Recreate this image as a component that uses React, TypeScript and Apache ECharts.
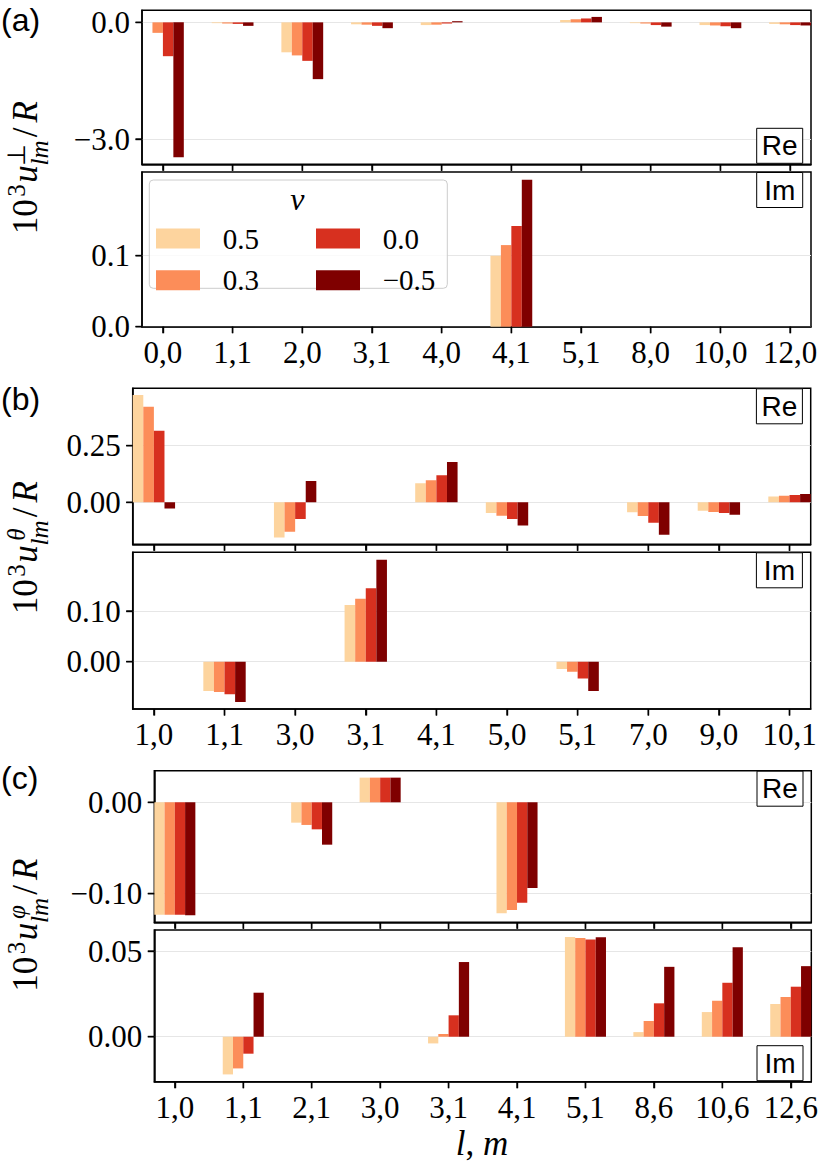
import React, { useEffect, useRef } from 'react';
import * as echarts from 'echarts';

// ---------------- data ----------------
const nuLabels = ['0.5', '0.3', '0.0', '\u22120.5'];
const barColors = ['#fdd49e', '#fc8d59', '#d7301f', '#7f0000'];

// panel (a): u_perp
const catsA = ['0,0', '1,1', '2,0', '3,1', '4,0', '4,1', '5,1', '8,0', '10,0', '12,0'];
const aRe: number[][] = [
  [0, -0.02, -0.77, -0.05, -0.07, 0, 0.06, -0.02, -0.07, -0.04],
  [-0.27, -0.03, -0.85, -0.06, -0.06, 0, 0.08, -0.03, -0.08, -0.05],
  [-0.87, -0.04, -0.99, -0.09, -0.03, 0, 0.1, -0.07, -0.1, -0.07],
  [-3.47, -0.09, -1.46, -0.15, 0.03, 0, 0.14, -0.11, -0.15, -0.08],
];
const aIm: number[][] = [
  [0, 0, 0, 0, 0, 0.1, 0, 0, 0, 0],
  [0, 0, 0, 0, 0, 0.115, 0, 0, 0, 0],
  [0, 0, 0, 0, 0, 0.142, 0, 0, 0, 0],
  [0, 0, 0, 0, 0, 0.207, 0, 0, 0, 0],
];
const aReTicks = [-3, 0];
const aReTickText = ['\u22123.0', '0.0'];
const aImTicks = [0, 0.1];
const aImTickText = ['0.0', '0.1'];

// panel (b): u_theta
const catsB = ['1,0', '1,1', '3,0', '3,1', '4,1', '5,0', '5,1', '7,0', '9,0', '10,1'];
const bRe: number[][] = [
  [0.474, 0, -0.156, 0, 0.084, -0.047, 0, -0.044, -0.037, 0.026],
  [0.422, 0, -0.13, 0, 0.097, -0.059, 0, -0.061, -0.043, 0.029],
  [0.316, 0, -0.074, 0, 0.119, -0.074, 0, -0.09, -0.047, 0.032],
  [-0.027, 0, 0.094, 0, 0.178, -0.102, 0, -0.143, -0.055, 0.037],
];
const bIm: number[][] = [
  [0, -0.058, 0, 0.112, 0, 0, -0.0144, 0, 0, 0],
  [0, -0.06, 0, 0.124, 0, 0, -0.02, 0, 0, 0],
  [0, -0.064, 0, 0.145, 0, 0, -0.033, 0, 0, 0],
  [0, -0.0795, 0, 0.201, 0, 0, -0.058, 0, 0, 0],
];
const bReTicks = [0, 0.25];
const bReTickText = ['0.00', '0.25'];
const bImTicks = [0, 0.1];
const bImTickText = ['0.00', '0.10'];

// panel (c): u_phi
const catsC = ['1,0', '1,1', '2,1', '3,0', '3,1', '4,1', '5,1', '8,6', '10,6', '12,6'];
const cRe: number[][] = [
  [-0.123, 0, -0.0223, 0.027, 0, -0.1216, 0, 0, 0, 0],
  [-0.123, 0, -0.0248, 0.027, 0, -0.118, 0, 0, 0, 0],
  [-0.123, 0, -0.0296, 0.027, 0, -0.11, 0, 0, 0, 0],
  [-0.1238, 0, -0.0464, 0.027, 0, -0.0939, 0, 0, 0, 0],
];
const cIm: number[][] = [
  [0, -0.022, 0, 0, -0.0039, 0, 0.0582, 0.0027, 0.0144, 0.0191],
  [0, -0.0185, 0, 0, 0.0016, 0, 0.0576, 0.0092, 0.021, 0.0232],
  [0, -0.0099, 0, 0, 0.0125, 0, 0.0568, 0.0195, 0.0315, 0.0292],
  [0, 0.0257, 0, 0, 0.0436, 0, 0.058, 0.0408, 0.0522, 0.0412],
];
const cReTicks = [-0.1, 0];
const cReTickText = ['\u22120.10', '0.00'];
const cImTicks = [0, 0.05];
const cImTickText = ['0.00', '0.05'];

// ---------------- styling / layout ----------------
const SERIF_NAME = 'Liberation Serif';
const SERIF = "'Liberation Serif', serif";
const SANS = "'Liberation Sans', sans-serif";
const W = 832;
const X_MIN = -0.3;
const X_MAX = 9.3;
const TICK_LEN = 6.5;

type Part = {
  top: number;
  height: number;
  min: number;
  max: number;
  data: number[][];
  ticks: number[];
  tickText: string[];
  tag: string;
  tagPos: 'top' | 'bottom';
  labels: boolean;
};
type Panel = { letter: string; cats: string[]; left: number; right: number; parts: Part[]; sym: string; symItalic: boolean; titleCenter: number; letterY: number };

const panels: Panel[] = [
  {
    letter: '(a)', cats: catsA, left: 142, right: 21, sym: '\u22A5', symItalic: false, titleCenter: 167.5, letterY: 22.5,
    parts: [
      { top: 10.3, height: 154, min: -3.65, max: 0.31, data: aRe, ticks: aReTicks, tickText: aReTickText, tag: 'Re', tagPos: 'bottom', labels: false },
      { top: 172, height: 154.7, min: 0, max: 0.218, data: aIm, ticks: aImTicks, tickText: aImTickText, tag: 'Im', tagPos: 'top', labels: true },
    ],
  },
  {
    letter: '(b)', cats: catsB, left: 132.7, right: 21.3, sym: '\u03B8', symItalic: true, titleCenter: 547.5, letterY: 401.7,
    parts: [
      { top: 388.3, height: 156, min: -0.1855, max: 0.5035, data: bRe, ticks: bReTicks, tickText: bReTickText, tag: 'Re', tagPos: 'top', labels: false },
      { top: 552.3, height: 156.7, min: -0.0933, max: 0.2158, data: bIm, ticks: bImTicks, tickText: bImTickText, tag: 'Im', tagPos: 'top', labels: true },
    ],
  },
  {
    letter: '(c)', cats: catsC, left: 154.3, right: 20.7, sym: '\u03C6', symItalic: true, titleCenter: 925, letterY: 780.8,
    parts: [
      { top: 770.7, height: 151.6, min: -0.1314, max: 0.0346, data: cRe, ticks: cReTicks, tickText: cReTickText, tag: 'Re', tagPos: 'top', labels: false },
      { top: 930, height: 151.7, min: -0.02625, max: 0.0623, data: cIm, ticks: cImTicks, tickText: cImTickText, tag: 'Im', tagPos: 'bottom', labels: true },
    ],
  },
];

const catIdx = [0, 1, 2, 3, 4, 5, 6, 7, 8, 9];
const allParts: Part[] = panels.flatMap((p) => p.parts);

function yTitle(sym: string, symItalic: boolean, centerY: number) {
  const main = 35;
  const scr = 25;
  const t = (text: string, cx: number, base: number, fs: number, italic: boolean) => ({
    type: 'text',
    x: cx,
    y: base - 0.3375 * fs,
    style: {
      text,
      font: `${italic ? 'italic ' : ''}${fs}px ${SERIF}`,
      fill: '#000',
      textAlign: 'center',
      textVerticalAlign: 'middle',
      verticalAlign: 'middle',
    },
  });
  return {
    type: 'group',
    x: 37,
    y: centerY + 67.5,
    rotation: Math.PI / 2,
    children: [
      t('10', 18.3, 0, main, false),
      t('3', 44.5, -12, scr, false),
      t('u', 61, 0, main, true),
      t(sym, 80.5, -12, scr, symItalic),
      t('lm', 82, 11, scr, true),
      t('/', 102.5, 0, main, false),
      t('R', 123.3, 0, main, true),
    ],
  };
}

function buildOption() {
  const grid: any[] = [];
  const xAxis: any[] = [];
  const yAxis: any[] = [];
  const series: any[] = [];
  const graphic: any[] = [];
  const lineBlack = { color: '#000', width: 1.5 };

  panels.forEach((p) => {
    p.parts.forEach((part) => {
      const k = grid.length;
      grid.push({
        left: p.left,
        right: p.right,
        top: part.top,
        height: part.height,
        show: true,
        borderColor: '#000',
        borderWidth: 1.5,
      });
      xAxis.push({
        type: 'value',
        gridIndex: k,
        min: X_MIN,
        max: X_MAX,
        axisLine: { show: true, onZero: false, lineStyle: lineBlack },
        axisTick: { show: true, customValues: catIdx.slice(), length: TICK_LEN, lineStyle: { color: '#000', width: 1.4 } },
        axisLabel: {
          show: part.labels,
          customValues: catIdx.slice(),
          formatter: (v: number) => p.cats[Math.round(v)] ?? '',
          margin: 10,
          fontFamily: SERIF_NAME,
          fontSize: 31,
          color: '#000',
        },
        splitLine: { show: false },
      });
      const ticks = part.ticks;
      const texts = part.tickText;
      yAxis.push({
        type: 'value',
        gridIndex: k,
        min: part.min,
        max: part.max,
        axisLine: { show: true, onZero: false, lineStyle: lineBlack },
        axisTick: { show: true, customValues: ticks.slice(), length: TICK_LEN, lineStyle: { color: '#000', width: 1.4 } },
        axisLabel: {
          customValues: ticks.slice(),
          formatter: (v: number) => {
            for (let i = 0; i < ticks.length; i++) if (Math.abs(ticks[i] - v) < 1e-9) return texts[i];
            return '';
          },
          margin: 12,
          fontFamily: SERIF_NAME,
          fontSize: 31,
          color: '#000',
        },
        splitLine: { show: true, lineStyle: { color: '#e6e6e6', width: 1.2 } },
      });
      part.data.forEach((vals, j) => {
        series.push({
          type: 'bar',
          name: nuLabels[j],
          xAxisIndex: k,
          yAxisIndex: k,
          data: vals.map((v, i) => [i, v]),
          barWidth: '15%',
          barGap: '0%',
          itemStyle: { color: barColors[j] },
          emphasis: { disabled: true },
        });
      });
      // Re / Im tag
      const boxW = 46;
      const boxH = 35;
      const bx = W - p.right - 8.3 - boxW;
      const by = part.tagPos === 'top' ? part.top + 0.5 : part.top + part.height - 1 - boxH;
      graphic.push({
        type: 'rect',
        shape: { x: bx, y: by, width: boxW, height: boxH },
        style: { fill: '#fff', stroke: '#000', lineWidth: 1 },
        z: 5,
      });
      graphic.push({
        type: 'text',
        x: bx + boxW / 2,
        y: by + boxH / 2,
        style: { text: part.tag, font: `28px ${SANS}`, fill: '#000', textAlign: 'center', textVerticalAlign: 'middle', verticalAlign: 'middle' },
        z: 6,
      });
    });
    // panel letter
    graphic.push({
      type: 'text',
      x: 1,
      y: p.letterY - 2.8,
      style: { text: p.letter, font: `32px ${SANS}`, fill: '#000', textAlign: 'left', textVerticalAlign: 'middle', verticalAlign: 'middle' },
      z: 6,
    });
    graphic.push(yTitle(p.sym, p.symItalic, p.titleCenter));
  });

  // legend frame and title
  graphic.push({
    type: 'rect',
    shape: { x: 149.3, y: 180, width: 298, height: 108.3, r: 4 },
    style: { fill: 'rgba(255,255,255,0.8)', stroke: '#cccccc', lineWidth: 1 },
    z: 3,
  });
  graphic.push({
    type: 'text',
    x: 297.3,
    y: 199,
    style: { text: '\u03BD', font: `italic 32px ${SERIF}`, fill: '#000', textAlign: 'center', textVerticalAlign: 'middle', verticalAlign: 'middle' },
    z: 6,
  });
  // x-axis title
  graphic.push({
    type: 'text',
    x: 482,
    y: 1143,
    style: {
      text: '{i|l}{n|, }{i|m}',
      rich: {
        i: { font: `italic 35px ${SERIF}`, fill: '#000' },
        n: { font: `35px ${SERIF}`, fill: '#000' },
      },
      fill: '#000',
      textAlign: 'center',
      textVerticalAlign: 'middle',
      verticalAlign: 'middle',
    },
    z: 6,
  });

  const legendCommon = {
    orient: 'vertical',
    icon: 'rect',
    itemWidth: 44,
    itemHeight: 20,
    itemGap: 12.7,
    padding: 0,
    top: 224,
    z: 8,
    selectedMode: false,
    textStyle: { fontFamily: SERIF_NAME, fontSize: 29, color: '#000', lineHeight: 20, padding: [0, 0, 0, 17.7] },
  };

  return {
    option: {
      animation: false,
      backgroundColor: '#fff',
      grid,
      xAxis,
      yAxis,
      series,
      legend: [
        { ...legendCommon, left: 156, data: [nuLabels[0], nuLabels[1]] },
        { ...legendCommon, left: 316, data: [nuLabels[2], nuLabels[3]] },
      ],
      graphic: { elements: graphic },
    },
    graphic,
  };
}

// tick marks placed with the chart's own coordinate conversion
function tickElements(chart: echarts.ECharts) {
  const els: any[] = [];
  allParts.forEach((part, k) => {
    const finder = { gridIndex: k };
    part.ticks.forEach((v) => {
      const pt = chart.convertToPixel(finder as any, [X_MIN, v]) as number[];
      if (!pt) return;
      els.push({
        type: 'line',
        shape: { x1: pt[0] - TICK_LEN, y1: pt[1], x2: pt[0], y2: pt[1] },
        style: { stroke: '#000', lineWidth: 1.4 },
        z: 20,
        silent: true,
      });
    });
    catIdx.forEach((i) => {
      const pt = chart.convertToPixel(finder as any, [i, part.min]) as number[];
      if (!pt) return;
      els.push({
        type: 'line',
        shape: { x1: pt[0], y1: pt[1], x2: pt[0], y2: pt[1] + TICK_LEN },
        style: { stroke: '#000', lineWidth: 1.4 },
        z: 20,
        silent: true,
      });
    });
  });
  return els;
}

export default function App() {
  const ref = useRef<HTMLDivElement>(null);
  useEffect(() => {
    if (!ref.current) return;
    const chart = echarts.init(ref.current, null, { renderer: 'svg' });
    const built = buildOption();
    chart.setOption(built.option as any);
    try {
      const ticks = tickElements(chart);
      chart.setOption({ graphic: { elements: [...built.graphic, ...ticks] } } as any);
    } catch (e) {
      // keep chart as is
    }
    return () => chart.dispose();
  }, []);
  return (
    <div
      ref={ref}
      style={{ position: 'absolute', left: 0, top: 0, width: W, height: 1166, background: '#fff' }}
    />
  );
}
